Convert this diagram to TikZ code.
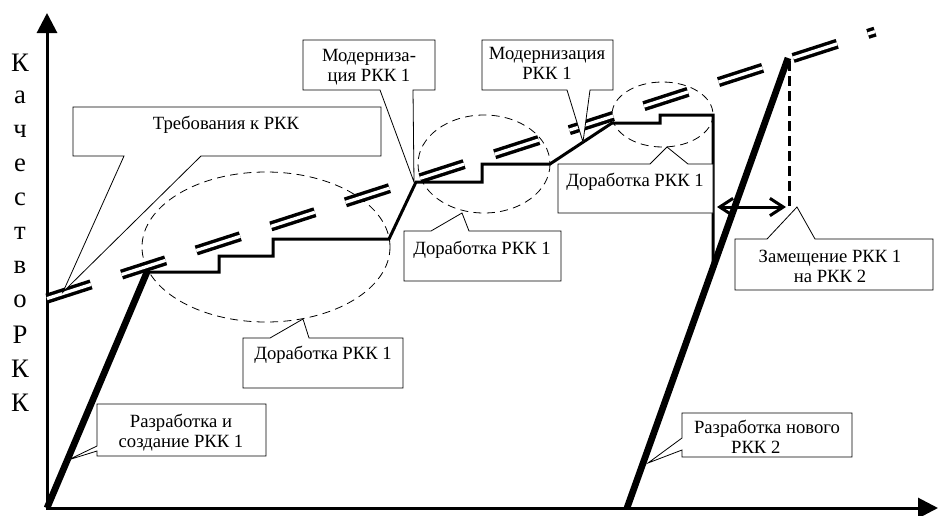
\documentclass[tikz,border=0pt]{standalone}
\usepackage{fontspec}
\setmainfont{Liberation Serif}
\usetikzlibrary{arrows.meta}

\tikzset{
  axis/.style={line width=2.25pt},
  oval/.style={line width=0.6pt, dash pattern=on 6pt off 4pt},
  reqline/.style={line width=2.6pt, double=white, double distance=2.4pt,
    dash pattern=on 34.7pt off 24.1pt},
  stairs/.style={line width=2.25pt},
  devline/.style={line width=5pt},
  callout/.style={draw, fill=white, line width=0.6pt},
  boxtext/.style={inner sep=0pt, align=center, font=\fontsize{14pt}{15pt}\selectfont},
  axisletter/.style={inner sep=0pt, font=\fontsize{20pt}{22pt}\selectfont}
}

\begin{document}
\begin{tikzpicture}[x=0.75pt, y=-0.75pt]
 \useasboundingbox (0,0) rectangle (939,515);
 % axes
 \draw[axis, {Triangle[length=15pt,width=15pt]}-{Triangle[length=15pt,width=15pt]}]
   (47,13) -- (47,508) -- (938,508);
 \foreach \ch [count=\i from 0] in {К,а,ч,е,с,т,в,о,Р,К,К}
   \node[axisletter] (ql\i) at (20,63+34*\i) {\ch};
 % ovals round the upgrades
 \draw[oval] (266,247) ellipse [x radius=124, y radius=75];
 \draw[oval] (484,164) ellipse [x radius=66, y radius=49];
 \draw[oval] (662.5,114.5) ellipse [x radius=50.5, y radius=32.5];
 % requirements
 \draw[reqline] (47,298.6) -- (875,31.6);
 % quality of the complex
 \coordinate (top1) at (147,272);
 \coordinate (top2) at (788,58);
 \draw[stairs] (top1) -- (219,272) -- (219,256) -- (273,256) -- (273,239)
   -- (389,239) -- (416,182) -- (482,182) -- (482,164) -- (550,164)
   -- (612,123) -- (660,123) -- (660,115) -- (713,115) -- (713,268);
 \draw[devline] (47,508) -- (top1);
 \draw[devline] (627,508) -- (top2);
 \draw[line width=2.25pt, dash pattern=on 7.5pt off 3.75pt] (789,61) -- (789,210);
 \draw[line width=2.25pt, {Straight Barb[length=10pt,width=13pt]}-{Straight Barb[length=10pt,width=13pt]}]
   (717,207) -- (786,207);
 % callouts
 \filldraw[callout] (73,107) -- (381,107) -- (381,156) -- (201,156) -- (63,292)
   -- (124,156) -- (73,156) -- cycle
   (226,125) node[boxtext] (treb) {Требования к РКК};
 \filldraw[callout] (303,40) -- (435,40) -- (435,90) -- (413,90) -- (414,182)
   -- (380,90) -- (303,90) -- cycle
   (369,67.5) node[boxtext] (modA) {Модерниза-\\ция РКК 1};
 \filldraw[callout] (482,40) -- (613,40) -- (613,90) -- (590,90) -- (583,142)
   -- (567,90) -- (482,90) -- cycle
   (547,63) node[boxtext] (modB) {Модернизация\\РКК 1};
 \filldraw[callout] (404,231) -- (431,231) -- (462,213) -- (469,231) -- (561,231)
   -- (561,281) -- (404,281) -- cycle
   (482,250) node[boxtext] (dorB) {Доработка РКК 1};
 \filldraw[callout] (558,164) -- (650,164) -- (667,147) -- (688,164) -- (713,164)
   -- (713,213) -- (558,213) -- cycle
   (635,182) node[boxtext] (dorC) {Доработка РКК 1};
 \filldraw[callout] (243,338) -- (270,338) -- (303,319) -- (309,338) -- (403,338)
   -- (403,388) -- (243,388) -- cycle
   (323,355) node[boxtext] (dorA) {Доработка РКК 1};
 \filldraw[callout] (97,404) -- (266,404) -- (266,456) -- (97,456) -- (97,451)
   -- (68,460) -- (97,446) -- cycle
   (181,432.5) node[boxtext] (razA) {Разработка и\\создание РКК 1};
 \filldraw[callout] (682,413) -- (852,413) -- (852,457) -- (682,457) -- (682,450)
   -- (648,463) -- (682,438) -- cycle
   (767,436.5) node[boxtext] (razB) {Разработка нового\\РКК 2\hspace*{1.2em}};
 \filldraw[callout] (735,239) -- (767,239) -- (797,207) -- (815,239) -- (933,239)
   -- (933,290) -- (735,290) -- cycle
   (830,266.5) node[boxtext] (zam) {Замещение РКК 1\\на РКК 2};
\end{tikzpicture}
\end{document}
